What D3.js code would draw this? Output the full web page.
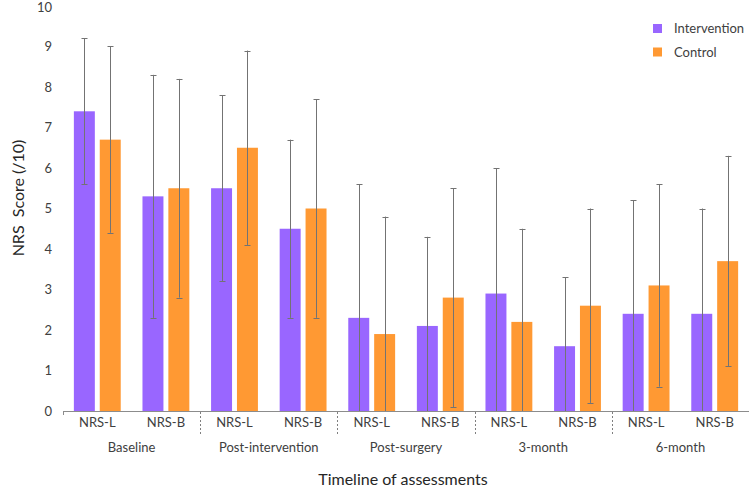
<!DOCTYPE html>
<html><head><meta charset="utf-8">
<script src="https://cdn.jsdelivr.net/npm/d3@7"></script>
<style>body{margin:0;background:#fff;} text{font-family:Lato,"Open Sans",sans-serif;}</style>
</head><body>
<svg id="c" width="749" height="488"></svg>
<script>
const timepoints = ["Baseline","Post-intervention","Post-surgery","3-month","6-month"];
const measures = ["NRS-L","NRS-B"];
const seriesNames = ["Intervention","Control"];
const colors = ["#9966FF","#FF9933"];
// order: Baseline L, Baseline B, Post-int L, Post-int B, Post-surg L, Post-surg B, 3m L, 3m B, 6m L, 6m B
const interventionMean = [7.4,5.3,5.5,4.5,2.3,2.1,2.9,1.6,2.4,2.4];
const interventionUpper = [9.2,8.3,7.8,6.7,5.6,4.3,6.0,3.3,5.2,5.0];
const interventionLower = [5.6,2.3,3.2,2.3,0,0,0,0,0,0];
const controlMean = [6.7,5.5,6.5,5.0,1.9,2.8,2.2,2.6,3.1,3.7];
const controlUpper = [9.0,8.2,8.9,7.7,4.8,5.5,4.5,5.0,5.6,6.3];
const controlLower = [4.4,2.8,4.1,2.3,0,0.1,0,0.2,0.6,1.1];
const yTicks = [0,1,2,3,4,5,6,7,8,9,10];

const svg = d3.select("#c");
const mLeft = 63, mRight = 749, mTop = 6, mBottom = 411;
const cats = [];
timepoints.forEach(t => measures.forEach(m => cats.push(t+"|"+m)));
const x = d3.scaleBand().domain(cats).range([mLeft,mRight]).paddingInner(0).paddingOuter(0);
const xs = d3.scaleBand().domain(seriesNames).range([0,x.bandwidth()]).paddingInner(0.19).paddingOuter(0.42);
const xg = d3.scaleBand().domain(timepoints).range([mLeft,mRight]);
const y = d3.scaleLinear().domain([0,10]).range([mBottom,mTop]);

const data = [
  {mean:interventionMean, up:interventionUpper, lo:interventionLower},
  {mean:controlMean, up:controlUpper, lo:controlLower}
];

// bars
data.forEach((s,si) => {
  svg.append("g").selectAll("rect").data(cats).join("rect")
    .attr("x", c => x(c)+xs(seriesNames[si]))
    .attr("width", xs.bandwidth())
    .attr("y", (c,i) => y(s.mean[i]))
    .attr("height", (c,i) => y(0)-y(s.mean[i]))
    .attr("fill", colors[si]);
});
// error bars
data.forEach((s,si) => {
  const g = svg.append("g").attr("stroke","#737373").attr("stroke-width",1);
  cats.forEach((c,i) => {
    const cx = Math.round(x(c)+xs(seriesNames[si])+xs.bandwidth()/2)+0.5;
    g.append("line").attr("x1",cx).attr("x2",cx).attr("y1",y(s.up[i])).attr("y2",y(s.lo[i]));
    g.append("line").attr("x1",cx-3).attr("x2",cx+3).attr("y1",Math.round(y(s.up[i]))+0.5).attr("y2",Math.round(y(s.up[i]))+0.5);
    if (s.lo[i] > 0)
      g.append("line").attr("x1",cx-3).attr("x2",cx+3).attr("y1",Math.round(y(s.lo[i]))+0.5).attr("y2",Math.round(y(s.lo[i]))+0.5);
  });
});

// x axis line
svg.append("line").attr("x1",mLeft).attr("x2",mRight).attr("y1",mBottom+0.5).attr("y2",mBottom+0.5)
  .attr("stroke","#8c8c8c").attr("stroke-width",1.2);
svg.append("line").attr("x1",mLeft+0.5).attr("x2",mLeft+0.5).attr("y1",mBottom).attr("y2",mBottom+4)
  .attr("stroke","#8c8c8c");
// separators
timepoints.slice(1).forEach(t => {
  const sx = Math.round(xg(t))+0.5;
  svg.append("line").attr("x1",sx).attr("x2",sx).attr("y1",mBottom+1).attr("y2",mBottom+25)
    .attr("stroke","#7f7f7f").attr("stroke-dasharray","2,2");
});
// category labels
svg.append("g").selectAll("text").data(cats).join("text")
  .attr("x", c => x(c)+x.bandwidth()/2).attr("y", 427)
  .attr("text-anchor","middle").attr("font-size",13).attr("fill","#404040")
  .text(c => c.split("|")[1]);
svg.append("g").selectAll("text").data(timepoints).join("text")
  .attr("x", t => xg(t)+xg.bandwidth()/2).attr("y", 452)
  .attr("text-anchor","middle").attr("font-size",13).attr("fill","#404040")
  .text(t => t);
// y ticks labels
svg.append("g").selectAll("text").data(yTicks).join("text")
  .attr("x", 52).attr("y", d => Math.max(y(d)+4.5, 12))
  .attr("text-anchor","end").attr("font-size",13).attr("fill","#404040")
  .text(d => d);
// titles
svg.append("text").attr("transform","translate(24,198) rotate(-90)")
  .attr("text-anchor","middle").attr("font-size",16).attr("fill","#262626")
  .attr("xml:space","preserve").text("NRS  Score (/10)");
svg.append("text").attr("x",403).attr("y",485)
  .attr("text-anchor","middle").attr("font-size",16).attr("fill","#262626")
  .text("Timeline of assessments");
// legend
seriesNames.forEach((n,i) => {
  const ly = 24 + i*23.5;
  svg.append("rect").attr("x",653).attr("y",ly).attr("width",9).attr("height",9).attr("fill",colors[i]);
  svg.append("text").attr("x",674).attr("y",ly+9).attr("font-size",13).attr("fill","#404040").text(n);
});
</script>
</body></html>
